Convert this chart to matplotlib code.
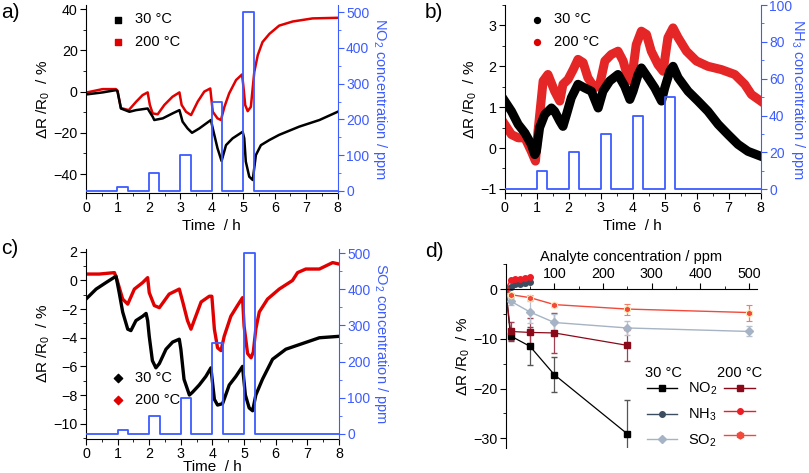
import matplotlib
matplotlib.use("Agg")
import matplotlib.pyplot as plt
from matplotlib.ticker import MultipleLocator

plt.rcParams['font.family'] = ['Liberation Sans', 'DejaVu Sans']
plt.rcParams['mathtext.fontset'] = 'custom'
plt.rcParams['mathtext.rm'] = 'Liberation Sans'
plt.rcParams['mathtext.it'] = 'Liberation Sans:italic'
plt.rcParams['font.size'] = 10.3

BLUE = '#3d5cff'
RED = '#e00000'

# --- a) NO2 ---
a_t30 = [0, 0.53, 0.95, 1.0, 1.11, 1.38, 1.59, 1.96, 2.01, 2.12, 2.17, 2.44, 2.75, 2.97,
         3.07, 3.23, 3.37, 3.6, 3.97, 4.03, 4.18, 4.31, 4.45, 4.66, 4.98, 5.03, 5.08, 5.19,
         5.3, 5.4, 5.56, 5.83, 6.14, 6.78, 7.42, 8.0]
a_y30 = [-1.4, -0.4, 0.7, 0.2, -8.2, -9.8, -9.0, -8.2, -9.5, -12.2, -13.8, -13.0, -10.6, -9.0,
         -14.6, -17.9, -20.0, -17.9, -13.8, -17.9, -27.5, -33.7, -26.0, -22.7, -19.5, -22.7, -34.0, -41.3,
         -42.9, -30.8, -26.0, -23.5, -21.0, -17.0, -13.8, -9.8]
a_t200 = [0, 0.53, 0.95, 1.0, 1.11, 1.36, 1.59, 1.8, 1.96, 2.03, 2.12, 2.28, 2.49, 2.75, 2.97,
          3.04, 3.18, 3.34, 3.55, 3.76, 3.95, 4.03, 4.18, 4.29, 4.4, 4.55, 4.77, 4.96,
          5.0, 5.06, 5.14, 5.24, 5.35, 5.46, 5.61, 5.83, 6.14, 6.57, 7.2, 8.0]
a_y200 = [-0.5, 1.2, 1.2, 0.5, -8.0, -9.0, -5.0, -1.7, -0.4, -6.5, -10.6, -11.0, -6.5, -2.5, -0.4,
          -6.5, -9.8, -11.4, -4.9, 0.0, 1.5, -9.8, -13.0, -13.8, -7.4, -0.9, 5.6, 8.3,
          3.0, -6.5, -9.5, -7.4, 9.6, 17.7, 24.0, 28.0, 32.0, 34.0, 35.5, 35.8]

# --- b) NH3 ---
b_t30 = [0, 0.21, 0.42, 0.63, 0.83, 0.94, 0.99, 1.09, 1.25, 1.46, 1.56, 1.72, 1.82, 1.93, 2.08,
         2.29, 2.5, 2.71, 2.92, 3.07, 3.28, 3.54, 3.75, 3.91, 4.01, 4.17, 4.27, 4.48, 4.69,
         4.9, 5.0, 5.16, 5.26, 5.42, 5.73, 6.04, 6.35, 6.67, 6.98, 7.29, 7.6, 8.0]
b_y30 = [1.15, 0.9, 0.58, 0.37, 0.09, -0.16, -0.08, 0.5, 0.82, 0.98, 0.9, 0.66, 0.53, 0.82, 1.23,
         1.56, 1.47, 1.39, 0.98, 1.39, 1.64, 1.8, 1.51, 1.19, 1.39, 1.8, 1.96, 1.72, 1.47,
         1.15, 1.47, 1.88, 2.0, 1.72, 1.39, 1.15, 0.9, 0.58, 0.33, 0.09, -0.08, -0.2]
b_t200 = [0, 0.21, 0.42, 0.63, 0.83, 0.96, 1.04, 1.2, 1.35, 1.56, 1.72, 1.82, 1.98, 2.14, 2.29,
          2.45, 2.6, 2.81, 2.97, 3.13, 3.33, 3.54, 3.7, 3.85, 3.96, 4.11, 4.27, 4.43, 4.58,
          4.79, 4.95, 5.1, 5.26, 5.42, 5.68, 5.99, 6.35, 6.77, 7.19, 7.5, 7.71, 8.0]
b_y200 = [0.58, 0.33, 0.25, 0.25, -0.08, -0.32, 0.41, 1.64, 1.8, 1.39, 1.15, 1.56, 1.68, 1.92, 2.17,
          2.09, 1.72, 1.47, 1.56, 2.13, 2.29, 2.37, 2.13, 1.72, 1.64, 2.53, 2.86, 2.78, 2.37,
          2.04, 1.88, 2.7, 2.94, 2.7, 2.37, 2.13, 2.0, 1.92, 1.8, 1.56, 1.31, 1.15]

# --- c) SO2 ---
c_t30 = [0, 0.32, 0.63, 0.95, 1.05, 1.16, 1.32, 1.42, 1.58, 1.79, 1.9, 1.95, 2.0, 2.1, 2.21,
         2.32, 2.53, 2.74, 2.95, 3.0, 3.1, 3.27, 3.37, 3.58, 3.79, 3.95, 4.06, 4.16, 4.32,
         4.53, 4.74, 4.95, 5.04, 5.16, 5.27, 5.37, 5.58, 5.9, 6.32, 6.85, 7.38, 8.0]
c_y30 = [-1.3, -0.6, -0.15, 0.3, -0.85, -2.2, -3.4, -3.5, -2.8, -2.5, -2.3, -2.8, -3.9, -5.6, -6.1,
         -5.8, -4.8, -4.3, -4.1, -4.8, -6.9, -8.0, -7.8, -7.3, -6.7, -6.1, -8.3, -8.7, -8.6,
         -7.3, -6.7, -6.0, -8.0, -8.9, -9.1, -8.0, -6.9, -5.5, -4.8, -4.4, -4.0, -3.9]
c_t200 = [0, 0.42, 0.9, 1.0, 1.16, 1.32, 1.53, 1.79, 1.95, 2.0, 2.16, 2.32, 2.63, 2.95, 3.06,
          3.21, 3.32, 3.42, 3.64, 3.9, 3.98, 4.06, 4.16, 4.27, 4.37, 4.58, 4.79, 4.95, 5.0,
          5.11, 5.22, 5.29, 5.37, 5.48, 5.74, 6.11, 6.53, 6.69, 6.95, 7.38, 7.8, 8.0]
c_y200 = [0.45, 0.45, 0.55, -0.1, -1.3, -1.65, -0.6, -0.15, 0.2, -0.85, -1.75, -1.9, -0.95, -0.6, -1.5,
          -2.8, -3.4, -2.8, -1.5, -1.1, -1.1, -3.4, -4.7, -4.9, -3.9, -2.5, -1.75, -1.2, -3.2,
          -5.1, -5.4, -5.0, -3.4, -2.2, -1.3, -0.6, 0.0, 0.55, 0.8, 0.8, 1.25, 1.15]

# gas pulses (step edges in h, concentration in ppm)
pulse_t = [0, 1, 1.333, 2, 2.333, 3, 3.333, 4, 4.333, 5, 5.333, 8]
no2_ppm = [0, 10, 0, 50, 0, 100, 0, 250, 0, 500, 0, 0]
nh3_ppm = [0, 10, 0, 20, 0, 30, 0, 40, 0, 50, 0, 0]
so2_ppm = [0, 10, 0, 50, 0, 100, 0, 250, 0, 500, 0, 0]

# --- d) calibration ---
no2_x = [0, 10, 50, 100, 250]
no2_30 = [0, -9.4, -11.5, -17.2, -29.1]
no2_30_err = [0, 1.1, 3.8, 3.5, 6.8]
no2_200 = [0, -8.5, -8.7, -8.8, -11.3]
no2_200_err = [0, 1.8, 2.9, 4.0, 3.1]
nh3_x = [0, 10, 20, 30, 40, 50]
nh3_30 = [0, 0.5, 1.0, 1.1, 1.2, 1.5]
nh3_30_err = [0, 0.3, 0.3, 0.3, 0.3, 0.3]
nh3_200 = [0, 1.9, 2.0, 2.1, 2.3, 2.5]
nh3_200_err = [0, 0.2, 0.2, 0.2, 0.2, 0.2]
so2_x = [0, 10, 50, 100, 250, 500]
so2_30 = [0, -2.4, -4.6, -6.7, -7.8, -8.5]
so2_30_err = [0, 0.7, 2.2, 1.8, 1.5, 1.0]
so2_200 = [0, -1.1, -1.7, -3.1, -4.0, -4.7]
so2_200_err = [0, 0.4, 0.5, 0.4, 1.1, 1.6]

ylab = r'$\Delta$R /R$_0$  / %'

fig = plt.figure(figsize=(8.09, 4.73), dpi=100)


def time_panel(rect, t30, y30, t200, y200, pt, ppm, gas, ylim, yr, ymaj, ymin, rmaj, rmin,
               marker, lw, legloc, legpos, xpad, rpad=14, red_alpha=1.0):
    ax = fig.add_axes(rect)
    ax.plot(t200, y200, color=RED, lw=lw, solid_joinstyle='round', alpha=red_alpha)
    ax.plot(t30, y30, color='black', lw=lw, solid_joinstyle='round')
    ax.set_xlim(0, 8)
    ax.set_ylim(*ylim)
    ax.xaxis.set_major_locator(MultipleLocator(1))
    ax.xaxis.set_minor_locator(MultipleLocator(0.5))
    ax.yaxis.set_major_locator(MultipleLocator(ymaj))
    ax.yaxis.set_minor_locator(MultipleLocator(ymin))
    ax.tick_params(which='both', direction='out', top=False, right=False)
    ax.tick_params(which='major', length=4, pad=2)
    ax.tick_params(which='minor', length=2)
    ax.set_xlabel('Time  / h', labelpad=xpad, fontsize=11)
    ax.set_ylabel(ylab, labelpad=1, fontsize=11)
    ax.spines['top'].set_visible(False)
    ax.spines['right'].set_visible(False)

    ax2 = ax.twinx()
    ax2.step(pt, ppm, where='post', color=BLUE, lw=1.3)
    ax2.set_ylim(*yr)
    ax2.yaxis.set_major_locator(MultipleLocator(rmaj))
    ax2.yaxis.set_minor_locator(MultipleLocator(rmin))
    ax2.spines['right'].set_color(BLUE)
    ax2.spines['top'].set_visible(False)
    ax2.spines['left'].set_visible(False)
    ax2.spines['bottom'].set_visible(False)
    ax2.tick_params(which='both', colors=BLUE, direction='out', labelsize=10)
    ax2.tick_params(which='major', length=4, pad=2)
    ax2.tick_params(which='minor', length=2)
    ax2.set_ylabel(gas + ' concentration / ppm', color=BLUE, rotation=270, labelpad=rpad, fontsize=10.5)

    h30 = ax.scatter([], [], marker=marker, color='black', s=18)
    h200 = ax.scatter([], [], marker=marker, color=RED, s=18)
    ax.legend([h30, h200], ['30 °C', '200 °C'], loc=legloc, bbox_to_anchor=legpos,
              frameon=False, fontsize=10.5, handletextpad=0.6, labelspacing=0.55,
              handlelength=1.2)
    return ax, ax2


time_panel([0.1063, 0.592, 0.3111, 0.3974], a_t30, a_y30, a_t200, a_y200, pulse_t, no2_ppm,
           'NO$_2$', (-49.2, 42), (-6, 520), 20, 10, 100, 50, 's', 1.8,
           'upper left', (0.04, 1.03), 3)
time_panel([0.6239, 0.592, 0.3164, 0.3974], b_t30, b_y30, b_t200, b_y200, pulse_t, nh3_ppm,
           'NH$_3$', (-1.1, 3.5), (-2, 100), 1, 0.5, 20, 10, 'o', 6.5,
           'upper left', (0.04, 1.03), 3, rpad=11, red_alpha=0.85)
time_panel([0.1063, 0.0725, 0.3127, 0.4011], c_t30, c_y30, c_t200, c_y200, pulse_t, so2_ppm,
           'SO$_2$', (-11.05, 2.2), (-14, 512), 2, 1, 100, 50, 'D', 2.4,
           'lower left', (0.04, 0.1), -1)

# panel d
axd = fig.add_axes([0.6251, 0.0522, 0.3103, 0.389])
axd.errorbar(no2_x, no2_30, yerr=no2_30_err, color='black', ecolor='#555555', marker='s', ms=4,
             lw=0.9, capsize=2, elinewidth=0.9)
axd.errorbar(no2_x, no2_200, yerr=no2_200_err, color='#8b0a1a', ecolor='#a04050', marker='s', ms=4,
             lw=0.9, capsize=2, elinewidth=0.9)
axd.errorbar(so2_x, so2_30, yerr=so2_30_err, color='#a6b3c4', ecolor='#b8c2cf', marker='D', ms=4,
             lw=1.0, capsize=2, elinewidth=0.9)
axd.errorbar(so2_x, so2_200, yerr=so2_200_err, color='#f2493a', ecolor='#f47a6e', marker='h', ms=5,
             lw=1.0, capsize=2, elinewidth=0.9, mec='#fde7b0', mew=0.8)
axd.errorbar(nh3_x, nh3_30, yerr=nh3_30_err, color='#3b4d5e', marker='o', ms=4,
             lw=1.0, capsize=1.5, elinewidth=0.8)
axd.errorbar(nh3_x, nh3_200, yerr=nh3_200_err, color='#ee1c24', marker='o', ms=4,
             lw=1.0, capsize=1.5, elinewidth=0.8)
axd.set_xlim(0, 516)
axd.set_ylim(-32, 5)
axd.spines['top'].set_position(('data', 0))
axd.spines['right'].set_visible(False)
axd.spines['bottom'].set_visible(False)
axd.xaxis.tick_top()
axd.xaxis.set_label_position('top')
axd.set_xticks([100, 200, 300, 400, 500])
axd.xaxis.set_minor_locator(MultipleLocator(50))
axd.yaxis.set_major_locator(MultipleLocator(10))
axd.yaxis.set_minor_locator(MultipleLocator(5))
axd.tick_params(which='both', direction='out')
axd.tick_params(which='major', length=4, pad=2)
axd.tick_params(which='minor', length=2)
axd.set_xlabel('Analyte concentration / ppm', labelpad=4, fontsize=10.5)
axd.set_ylabel(ylab, labelpad=1, fontsize=11)

hd = []
for col, mk, ms in [('black', 's', 4), ('#3b4d5e', 'o', 4), ('#a6b3c4', 'D', 4)]:
    hd.append(plt.Line2D([], [], color=col, marker=mk, ms=ms, lw=1.0))
for col, mk, ms in [('#8b0a1a', 's', 4), ('#ee1c24', 'o', 4), ('#f2493a', 'h', 5)]:
    hd.append(plt.Line2D([], [], color=col, marker=mk, ms=ms, lw=1.0))
axd.legend(hd, ['NO$_2$', 'NH$_3$', 'SO$_2$', '', '', ''], ncol=2, loc='lower left',
           bbox_to_anchor=(0.51, -0.075), frameon=False, fontsize=10.5, handlelength=2.1,
           handletextpad=0.7, columnspacing=0.5, labelspacing=0.65)
axd.text(0.63, 0.41, '30 °C', transform=axd.transAxes, ha='center', va='center', fontsize=10.5)
axd.text(0.93, 0.41, '200 °C', transform=axd.transAxes, ha='center', va='center', fontsize=10.5)

# panel letters
fig.text(0.002, 0.962, 'a)', fontsize=15)
fig.text(0.525, 0.962, 'b)', fontsize=15)
fig.text(0.002, 0.462, 'c)', fontsize=15)
fig.text(0.525, 0.457, 'd)', fontsize=15)

fig.savefig('out.png', dpi=100)
